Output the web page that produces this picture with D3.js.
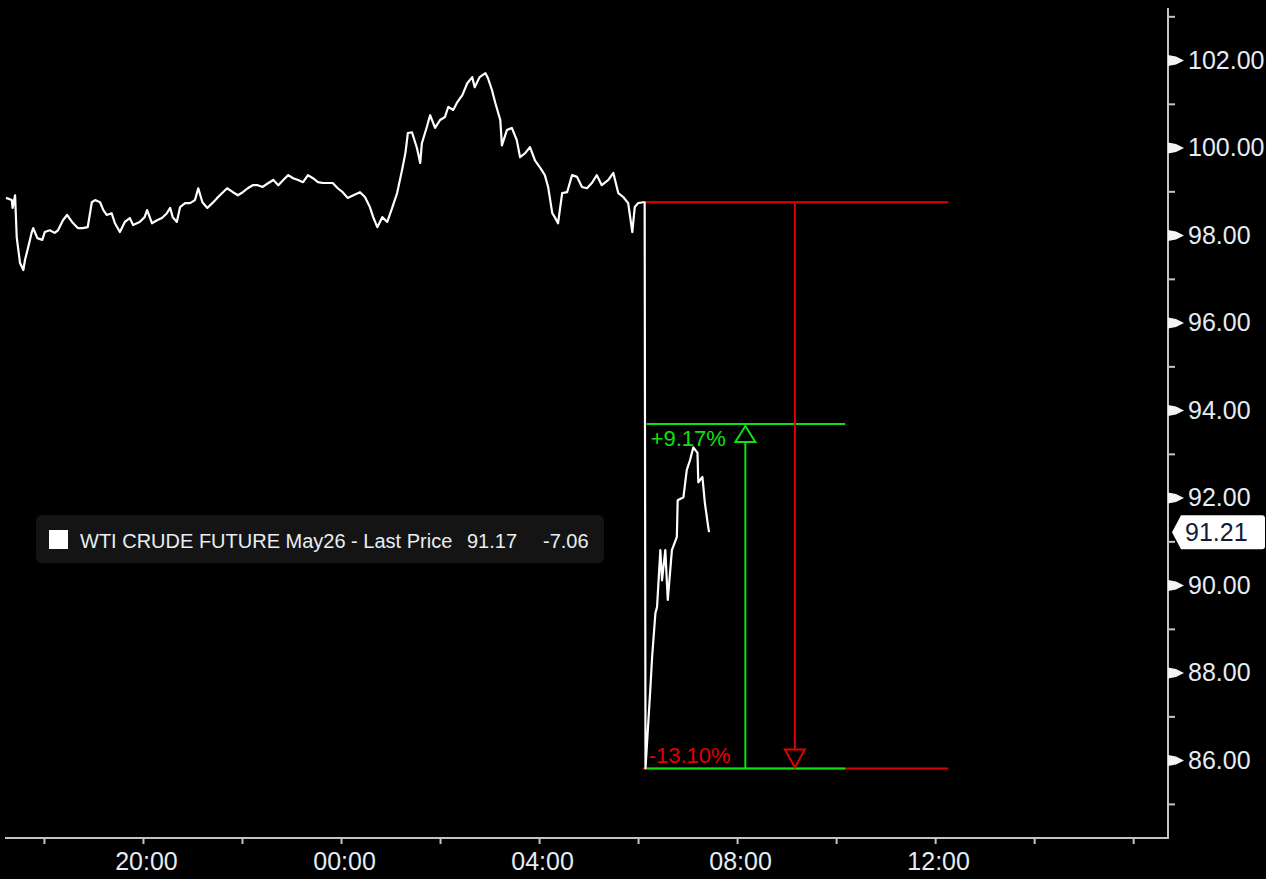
<!DOCTYPE html>
<html><head><meta charset="utf-8">
<script src="https://cdn.jsdelivr.net/npm/d3@7"></script>
<style>html,body{margin:0;padding:0;background:#000;overflow:hidden}</style>
</head><body>
<svg id="c" width="1266" height="879"></svg>
<script>
// ---- data ----
const times = ["17:14","17:21","17:22","17:25","17:27","17:31","17:35","17:37","17:41","17:45","17:47","17:52","17:58","18:01","18:07","18:13","18:17","18:23","18:28","18:34","18:41","18:47","18:53","18:58","19:02","19:08","19:12","19:16","19:22","19:26","19:32","19:38","19:44","19:48","19:56","20:02","20:05","20:11","20:17","20:23","20:29","20:33","20:36","20:41","20:45","20:51","20:57","21:03","21:07","21:12","21:18","21:24","21:30","21:36","21:42","21:49","21:55","22:01","22:07","22:13","22:19","22:25","22:32","22:38","22:44","22:50","22:56","23:02","23:08","23:14","23:20","23:26","23:32","23:38","23:44","23:50","23:56","00:02","00:08","00:15","00:23","00:29","00:35","00:39","00:44","00:50","00:56","01:02","01:08","01:14","01:18","01:21","01:26","01:32","01:36","01:38","01:44","01:48","01:54","02:00","02:06","02:10","02:16","02:21","02:27","02:33","02:39","02:42","02:48","02:55","02:58","03:03","03:07","03:13","03:15","03:21","03:27","03:33","03:37","03:43","03:49","03:55","04:01","04:07","04:11","04:16","04:19","04:23","04:28","04:34","04:40","04:46","04:52","04:58","05:04","05:10","05:16","05:24","05:30","05:36","05:42","05:48","05:53","05:56","06:00","06:06","06:08","06:09","06:15","06:17","06:21","06:23","06:27","06:29","06:33","06:36","06:41","06:47","06:48","06:55","06:59","07:03","07:07","07:12","07:13","07:18","07:21","07:25","07:26"];
const prices = [98.85,98.80,98.62,98.91,97.95,97.36,97.20,97.43,97.73,98.05,98.16,97.93,97.89,98.07,98.11,98.05,98.11,98.34,98.46,98.30,98.16,98.16,98.18,98.75,98.80,98.75,98.57,98.46,98.50,98.27,98.07,98.30,98.39,98.23,98.30,98.41,98.57,98.27,98.34,98.39,98.50,98.62,98.41,98.30,98.64,98.73,98.73,98.80,99.07,98.75,98.62,98.73,98.85,98.96,99.07,98.98,98.91,98.98,99.07,99.14,99.14,99.10,99.19,99.26,99.14,99.26,99.37,99.30,99.26,99.21,99.37,99.30,99.21,99.19,99.19,99.19,99.07,98.98,98.85,98.91,98.98,98.87,98.64,98.41,98.18,98.41,98.30,98.62,98.96,99.49,99.87,100.33,100.35,99.99,99.65,100.10,100.47,100.74,100.45,100.63,100.70,100.93,100.86,101.04,101.20,101.47,101.61,101.38,101.61,101.70,101.59,101.31,101.02,100.63,100.05,100.40,100.45,100.17,99.78,99.87,100.01,99.71,99.55,99.37,99.10,98.50,98.41,98.27,98.96,98.98,99.37,99.33,99.10,99.07,99.19,99.37,99.14,99.26,99.42,98.96,98.87,98.73,98.07,98.64,98.73,98.75,98.75,85.81,87.67,88.35,89.36,89.50,90.80,90.11,90.80,89.66,90.80,91.10,91.94,92.01,92.63,92.86,93.15,93.02,92.35,92.47,91.87,91.33,91.21];

const yMajorTicks = [86,88,90,92,94,96,98,100,102];
const yMinorTicks = [85,87,89,91,93,95,97,99,101,103];
const xTickTimes = ["18:00","20:00","22:00","00:00","02:00","04:00","06:00","08:00","10:00","12:00","14:00","16:00"];
const xLabelTimes = ["20:00","00:00","04:00","08:00","12:00"];
const xDomain = ["17:14","16:41"];
const yDomain = [84.22,103.19];

const legendName = "WTI CRUDE FUTURE May26 - Last Price";
const legendLast = "91.17";
const legendChange = "-7.06";
const lastPriceTag = 91.21;

// measurement annotation
const moveHigh = 98.75, moveLow = 85.81, moveRebound = 93.68;
const moveStartTime = "06:08";
const upArrowTime = "08:10", downArrowTime = "09:10";
const greenEndTime = "10:11", redEndTime = "12:16";
const upLabel = "+9.17%", downLabel = "-13.10%";

// ---- drawing ----
const parseT = s => { const [h,m] = s.split(":").map(Number); return new Date(2026,3,h>=17?6:7,h,m); };
const fmt = d3.timeFormat("%H:%M");
const svg = d3.select("#c");
svg.append("rect").attr("width",1266).attr("height",879).attr("fill","#000");

const L = 6, R = 1168, T = 8, B = 838;
const x = d3.scaleTime().domain(xDomain.map(parseT)).range([L, R-1]);
const y = d3.scaleLinear().domain(yDomain).range([B, T]);
const axisColor = "#c4c4c4", textColor = "#e4ecf4";
const FONT = "'Liberation Sans', Arial, sans-serif";

// frame
svg.append("line").attr("x1",R).attr("x2",R).attr("y1",T).attr("y2",B+1).attr("stroke",axisColor).attr("stroke-width",2);
svg.append("line").attr("x1",L-1).attr("x2",R+1).attr("y1",B).attr("y2",B).attr("stroke",axisColor).attr("stroke-width",2);

// x axis
const xAxis = d3.axisBottom(x).tickValues(xTickTimes.map(parseT)).tickSize(6).tickPadding(8)
  .tickFormat(d => xLabelTimes.includes(fmt(d)) ? fmt(d) : "");
const gx = svg.append("g").attr("transform",`translate(0,${B})`).call(xAxis);
gx.select(".domain").remove();
gx.selectAll(".tick line").attr("stroke",axisColor).attr("stroke-width",2);
gx.selectAll(".tick text").attr("fill",textColor).attr("font-family",FONT).attr("font-size",25).attr("dx",3);

// y axis minor
const yMinor = d3.axisRight(y).tickValues(yMinorTicks).tickSize(7).tickFormat("");
const gym = svg.append("g").attr("transform",`translate(${R},0)`).call(yMinor);
gym.select(".domain").remove();
gym.selectAll(".tick line").attr("stroke",axisColor).attr("stroke-width",2);

// y axis major
const yMajor = d3.axisRight(y).tickValues(yMajorTicks).tickSize(0).tickPadding(20).tickFormat(d3.format(".2f"));
const gy = svg.append("g").attr("transform",`translate(${R},0)`).call(yMajor);
gy.select(".domain").remove();
gy.selectAll(".tick text").attr("fill",textColor).attr("font-family",FONT).attr("font-size",25);
gy.selectAll(".tick").append("path").attr("d","M0,-5.5L8,-4L16,0L8,4L0,5.5Z").attr("fill","#f4f4f4");

// annotation lines (behind price)
const xs = x(parseT(moveStartTime));
const red = "#e00000", green = "#10e010";
svg.append("line").attr("x1",xs).attr("x2",x(parseT(redEndTime))).attr("y1",y(moveHigh)).attr("y2",y(moveHigh)).attr("stroke",red).attr("stroke-width",2);
svg.append("line").attr("x1",xs-2).attr("x2",x(parseT(redEndTime))).attr("y1",y(moveLow)).attr("y2",y(moveLow)).attr("stroke",red).attr("stroke-width",2);
svg.append("line").attr("x1",xs+2).attr("x2",x(parseT(greenEndTime))).attr("y1",y(moveLow)).attr("y2",y(moveLow)).attr("stroke",green).attr("stroke-width",2);
svg.append("line").attr("x1",xs+2).attr("x2",x(parseT(greenEndTime))).attr("y1",y(moveRebound)).attr("y2",y(moveRebound)).attr("stroke",green).attr("stroke-width",2);

// up arrow (green)
const ux = x(parseT(upArrowTime)), uyT = y(moveRebound)+2;
svg.append("line").attr("x1",ux).attr("x2",ux).attr("y1",y(moveLow)).attr("y2",uyT+16).attr("stroke",green).attr("stroke-width",2);
svg.append("path").attr("d",`M${ux},${uyT}L${ux+10},${uyT+16}L${ux-10},${uyT+16}Z`).attr("fill","none").attr("stroke",green).attr("stroke-width",2);
// down arrow (red)
const dx = x(parseT(downArrowTime)), dyB = y(moveLow)-1;
svg.append("line").attr("x1",dx).attr("x2",dx).attr("y1",y(moveHigh)).attr("y2",dyB-18).attr("stroke",red).attr("stroke-width",2);
svg.append("path").attr("d",`M${dx},${dyB}L${dx+10},${dyB-18}L${dx-10},${dyB-18}Z`).attr("fill","none").attr("stroke",red).attr("stroke-width",2);

// labels
svg.append("text").attr("x",xs+6).attr("y",y(moveRebound)+22).text(upLabel)
  .attr("fill",green).attr("font-family",FONT).attr("font-size",22);
svg.append("text").attr("x",xs+4).attr("y",y(moveLow)-5).text(downLabel)
  .attr("fill",red).attr("font-family",FONT).attr("font-size",22);

// price line
const data = times.map((t,i)=>({t:parseT(t), p:prices[i]}));
svg.append("path").datum(data).attr("fill","none").attr("stroke","#ffffff").attr("stroke-width",2.2)
  .attr("stroke-linejoin","round")
  .attr("d", d3.line().x(d=>x(d.t)).y(d=>y(d.p)));

// legend
const lg = svg.append("g");
lg.append("rect").attr("x",36).attr("y",515).attr("width",568).attr("height",48).attr("rx",6).attr("fill","#141414");
lg.append("rect").attr("x",49).attr("y",530).attr("width",19).attr("height",19).attr("fill","#ffffff");
lg.append("text").attr("x",80).attr("y",548).text(legendName).attr("fill","#e8eef4").attr("font-family",FONT).attr("font-size",20);
lg.append("text").attr("x",467).attr("y",548).text(legendLast).attr("fill","#e8eef4").attr("font-family",FONT).attr("font-size",20);
lg.append("text").attr("x",543).attr("y",548).text(legendChange).attr("fill","#e8eef4").attr("font-family",FONT).attr("font-size",20);

// last price tag
const ty = y(lastPriceTag);
svg.append("path").attr("d",`M${R+4},${ty}L${R+13},${ty-17}L1262,${ty-17}Q1265,${ty-17} 1265,${ty-14}L1265,${ty+14}Q1265,${ty+17} 1262,${ty+17}L${R+13},${ty+17}Z`).attr("fill","#ffffff");
svg.append("text").attr("x",R+17).attr("y",ty+9).text(d3.format(".2f")(lastPriceTag)).attr("fill","#141a3c").attr("font-family",FONT).attr("font-size",25);
</script>
</body></html>
